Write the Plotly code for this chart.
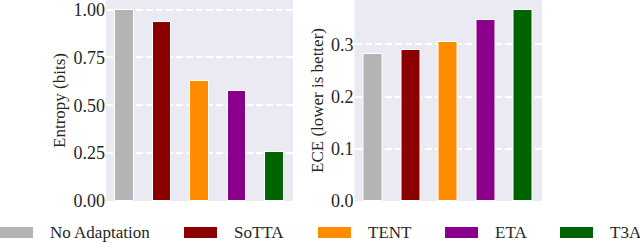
import plotly.graph_objects as go

methods = ["No Adaptation", "SoTTA", "TENT", "ETA", "T3A"]
entropy = [1.00, 0.936, 0.628, 0.576, 0.254]
ece = [0.281, 0.289, 0.304, 0.347, 0.366]
colors = ["#b4b4b4", "#8b0000", "#ff8c00", "#8b008b", "#006400"]
entropy_ticks = [0.0, 0.25, 0.5, 0.75, 1.0]
entropy_ticktext = ["0.00", "0.25", "0.50", "0.75", "1.00"]
ece_ticks = [0.0, 0.1, 0.2, 0.3]
ece_ticktext = ["0.0", "0.1", "0.2", "0.3"]

W, H = 640, 243
FONT = "Liberation Serif"
TXT = "#262626"
BG = "#eaeaf2"

fig = go.Figure()
xs = list(range(len(methods)))
fig.add_trace(go.Bar(x=xs, y=entropy, marker=dict(color=colors, line=dict(color="white", width=1)),
                     width=0.5, xaxis="x", yaxis="y", showlegend=False, hoverinfo="skip"))
fig.add_trace(go.Bar(x=xs, y=ece, marker=dict(color=colors, line=dict(color="white", width=1)),
                     width=0.5, xaxis="x2", yaxis="y2", showlegend=False, hoverinfo="skip"))

ydom = [42 / H, 1.0]
common_x = dict(range=[-0.5, 4.5], showticklabels=False, showgrid=False, zeroline=False,
                ticks="", showline=False, fixedrange=True, automargin=False)
common_y = dict(showgrid=True, gridcolor="white", gridwidth=1.6, griddash="7px,3px",
                zeroline=False, showline=False, ticks="", ticklabeloverflow="allow", automargin=False,
                fixedrange=True, tickfont=dict(family=FONT, size=18, color=TXT), domain=ydom)

fig.update_layout(
    width=W, height=H,
    margin=dict(l=0, r=0, t=0, b=0, pad=0),
    paper_bgcolor="white",
    plot_bgcolor=BG,
    font=dict(family=FONT, color=TXT),
    xaxis=dict(domain=[106 / W, 293 / W], anchor="y", **common_x),
    xaxis2=dict(domain=[354.5 / W, 542 / W], anchor="y2", **common_x),
    yaxis=dict(range=[0, 1.0496], tickvals=entropy_ticks, ticktext=entropy_ticktext, anchor="x",
               title=dict(text="Entropy (bits)", font=dict(family=FONT, size=17, color=TXT), standoff=3),
               **common_y),
    yaxis2=dict(range=[0, 0.385], tickvals=ece_ticks, ticktext=ece_ticktext, anchor="x2",
                title=dict(text="ECE (lower is better)", font=dict(family=FONT, size=17, color=TXT), standoff=3),
                **common_y),
    bargap=0,
)

# custom legend (matplotlib-style wide patches)
patch_x = [0, 184, 318, 445, 560]
patch_w = 33
text_gap = 15
ly0, ly1 = 227, 238
for name, col, px in zip(methods, colors, patch_x):
    fig.add_shape(type="rect", xref="paper", yref="paper",
                  x0=px / W, x1=(px + patch_w) / W, y0=(H - ly1) / H, y1=(H - ly0) / H,
                  fillcolor=col, line=dict(width=0))
    fig.add_annotation(xref="paper", yref="paper", x=(px + patch_w + text_gap) / W, y=(H - 232.5) / H,
                       text=name, showarrow=False, xanchor="left", yanchor="middle",
                       font=dict(family=FONT, size=17, color=TXT))

fig.write_html("out.html", config={"displayModeBar": False},
               post_script="document.body.style.margin='0px';document.body.style.overflow='hidden';")
